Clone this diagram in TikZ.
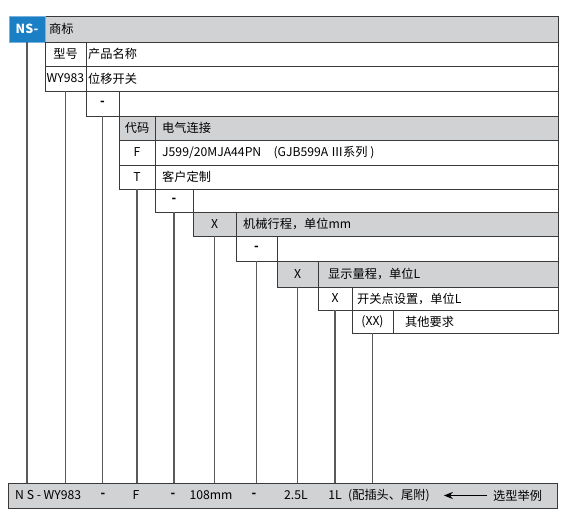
\documentclass[tikz,border=0pt]{standalone}
\usepackage{fontspec}
\setmainfont{Noto Sans CJK SC}
\usetikzlibrary{arrows.meta}
\definecolor{nsblue}{HTML}{1A7FC4}
\definecolor{fillgray}{HTML}{D1D2D4}
\definecolor{framegray}{HTML}{3A3A3A}
\definecolor{stemgray}{HTML}{5A5A5A}
\tikzset{
  cellframe/.style={draw=framegray, line width=0.9pt},
  codecell/.style={cellframe, anchor=north west, inner sep=0pt, outer sep=0pt,
    font=\fontsize{12.2}{14}\selectfont},
  desc/.style={anchor=west, inner sep=0pt, font=\fontsize{12.2}{14}\selectfont},
  bartext/.style={inner sep=0pt, font=\fontsize{12.2}{14}\selectfont},
  stem/.style={draw=stemgray, line width=1.6pt},
  pointer/.style={line width=1.6pt, -{Stealth[length=9pt, width=7pt]}}
}
\newcommand{\bdash}{\textbf{-}}

\begin{document}
\begin{tikzpicture}[x=1pt, y=-1pt]
  \useasboundingbox (0,0) rectangle (565,530);

  % rows of the table
  \draw [cellframe, fill=fillgray] (45,16) rectangle (558,42);
  \draw [cellframe] (86,42) rectangle (558,66);
  \draw [cellframe] (86,66) rectangle (558,91);
  \draw [cellframe] (119,91) rectangle (558,116);
  \draw [cellframe, fill=fillgray] (155,116) rectangle (558,140);
  \draw [cellframe] (155,140) rectangle (558,165);
  \draw [cellframe] (155,165) rectangle (558,189);
  \draw [cellframe] (193,189) rectangle (558,212);
  \draw [cellframe, fill=fillgray] (236,212) rectangle (558,236);
  \draw [cellframe] (277,236) rectangle (558,261);
  \draw [cellframe, fill=fillgray] (318,261) rectangle (558,287);
  \draw [cellframe] (352,287) rectangle (558,310);
  \draw [cellframe] (393,310) rectangle (558,333);

  % code cells
  \node [codecell, fill=nsblue, draw=nsblue!60!white, text=white,
    font=\fontsize{12.5}{14}\selectfont\bfseries,
    minimum width=36, minimum height=26] (ns) at (9,16) {NS-};
  \node [codecell, minimum width=41, minimum height=24] (xinghao) at (45,42) {型号};
  \node [codecell, minimum width=41, minimum height=25] (wy) at (45,66) {WY983};
  \node [codecell, minimum width=33, minimum height=25] (dashA) at (86,91) {\bdash};
  \node [codecell, fill=fillgray, minimum width=36, minimum height=24] (daima) at (119,116) {代码};
  \node [codecell, minimum width=36, minimum height=25] (f) at (119,140) {F};
  \node [codecell, minimum width=36, minimum height=24] (t) at (119,165) {T};
  \node [codecell, minimum width=38, minimum height=23] (dashB) at (155,189) {\bdash};
  \node [codecell, fill=fillgray, minimum width=43, minimum height=24] (xA) at (193,212) {X};
  \node [codecell, minimum width=41, minimum height=25] (dashC) at (236,236) {\bdash};
  \node [codecell, fill=fillgray, minimum width=41, minimum height=26] (xB) at (277,261) {X};
  \node [codecell, minimum width=34, minimum height=23] (xC) at (318,287) {X};
  \node [codecell, minimum width=41, minimum height=23] (xx) at (352,310) {(XX)};

  % descriptions
  \node [desc] (shangbiao) at (49,29) {商标};
  \node [desc] (mingcheng) at (88,54) {产品名称};
  \node [desc] (weiyi) at (88,78.5) {位移开关};
  \node [desc] (dianqi) at (162,128) {电气连接};
  \node [desc] (jieti) at (162,152.5) {J599/20MJA44PN\quad(GJB599A Ⅲ系列 )};
  \node [desc] (kehu) at (162,177) {客户定制};
  \node [desc] (xingcheng) at (243,224) {机械行程，单位mm};
  \node [desc] (liangcheng) at (328,274) {显示量程，单位L};
  \node [desc] (kaiguan) at (357,298.5) {开关点设置，单位L};
  \node [desc] (qita) at (405,321.5) {其他要求};

  % example bar
  \node [codecell, fill=fillgray, minimum width=549, minimum height=25] (bar) at (8,483) {};
  \node [bartext, anchor=west] (lihao) at (15,495.5) {N S - WY983};
  \node [bartext] (lia) at (103,495.5) {\bdash};
  \node [bartext] (lif) at (136,495.5) {F};
  \node [bartext] (lib) at (173,495.5) {\bdash};
  \node [bartext] (lixc) at (211,495.5) {108mm};
  \node [bartext] (lic) at (254,495.5) {\bdash};
  \node [bartext] (lilc) at (296,495.5) {2.5L};
  \node [bartext] (likg) at (335,495.5) {1L};
  \node [bartext, anchor=west] (lipei) at (348,495.5) {(配插头、尾附)};
  \node [bartext, anchor=west] (lixuan) at (493,495.5) {选型举例};

  % stems down to the bar
  \foreach \c in {ns,wy,dashA,t,dashB,xA,dashC,xB,xC,xx}
    \draw [stem] (\c.south) -- (\c.south |- bar.north);
  \draw [pointer] ([xshift=-6pt]lixuan.west) -- ([xshift=14pt]lipei.east);
\end{tikzpicture}
\end{document}
